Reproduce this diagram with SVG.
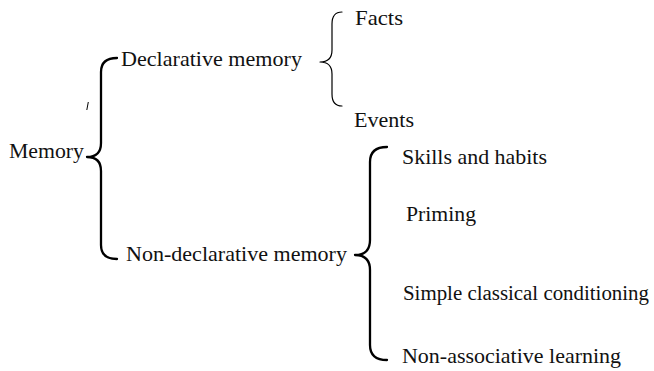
<svg xmlns="http://www.w3.org/2000/svg" width="654" height="371" viewBox="0 0 654 371">
<style>
text{font-family:'Liberation Serif','DejaVu Serif',serif;font-size:21.5px;fill:#111}
.br{fill:none;stroke:#000;stroke-linecap:round;stroke-linejoin:round}
.thick{stroke-width:2.3}
.thin{stroke-width:1.2}
</style>
<rect width="654" height="371" fill="#fff"/>
<g id="connectors">
<path class="br thick" d="M117,58 Q101,58 101,72 L101,143 Q101,157 87,157 Q101,157 101,171 L101,245 Q101,259 117,259"/>
<path class="br thin" d="M342,12 Q332,12 332,24 L332,50 Q332,62 320,62 Q332,62 332,74 L332,94 Q332,106 342,106"/>
<path class="br thick" d="M387,147 Q370,147 370,162 L370,240 Q370,255 355,255 Q370,255 370,270 L370,345 Q370,360 387,360"/>
<line x1="88.3" y1="102" x2="86.8" y2="110" stroke="#000" stroke-width="1"/>
</g>
<g id="memory"><text x="9" y="158" textLength="75" lengthAdjust="spacingAndGlyphs">Memory</text></g>
<g id="declarative"><text x="121" y="66" textLength="181" lengthAdjust="spacingAndGlyphs">Declarative memory</text></g>
<g id="facts"><text x="355" y="25" textLength="48" lengthAdjust="spacingAndGlyphs">Facts</text></g>
<g id="events"><text x="354" y="127" textLength="60" lengthAdjust="spacingAndGlyphs">Events</text></g>
<g id="nondeclarative"><text x="126" y="261" textLength="221" lengthAdjust="spacingAndGlyphs">Non-declarative memory</text></g>
<g id="skills"><text x="402" y="164" textLength="145" lengthAdjust="spacingAndGlyphs">Skills and habits</text></g>
<g id="priming"><text x="406" y="221" textLength="70" lengthAdjust="spacingAndGlyphs">Priming</text></g>
<g id="conditioning"><text x="403" y="300" style="font-size:20.8px" textLength="246" lengthAdjust="spacingAndGlyphs">Simple classical conditioning</text></g>
<g id="nonassociative"><text x="402" y="363" textLength="219" lengthAdjust="spacingAndGlyphs">Non-associative learning</text></g>
</svg>
